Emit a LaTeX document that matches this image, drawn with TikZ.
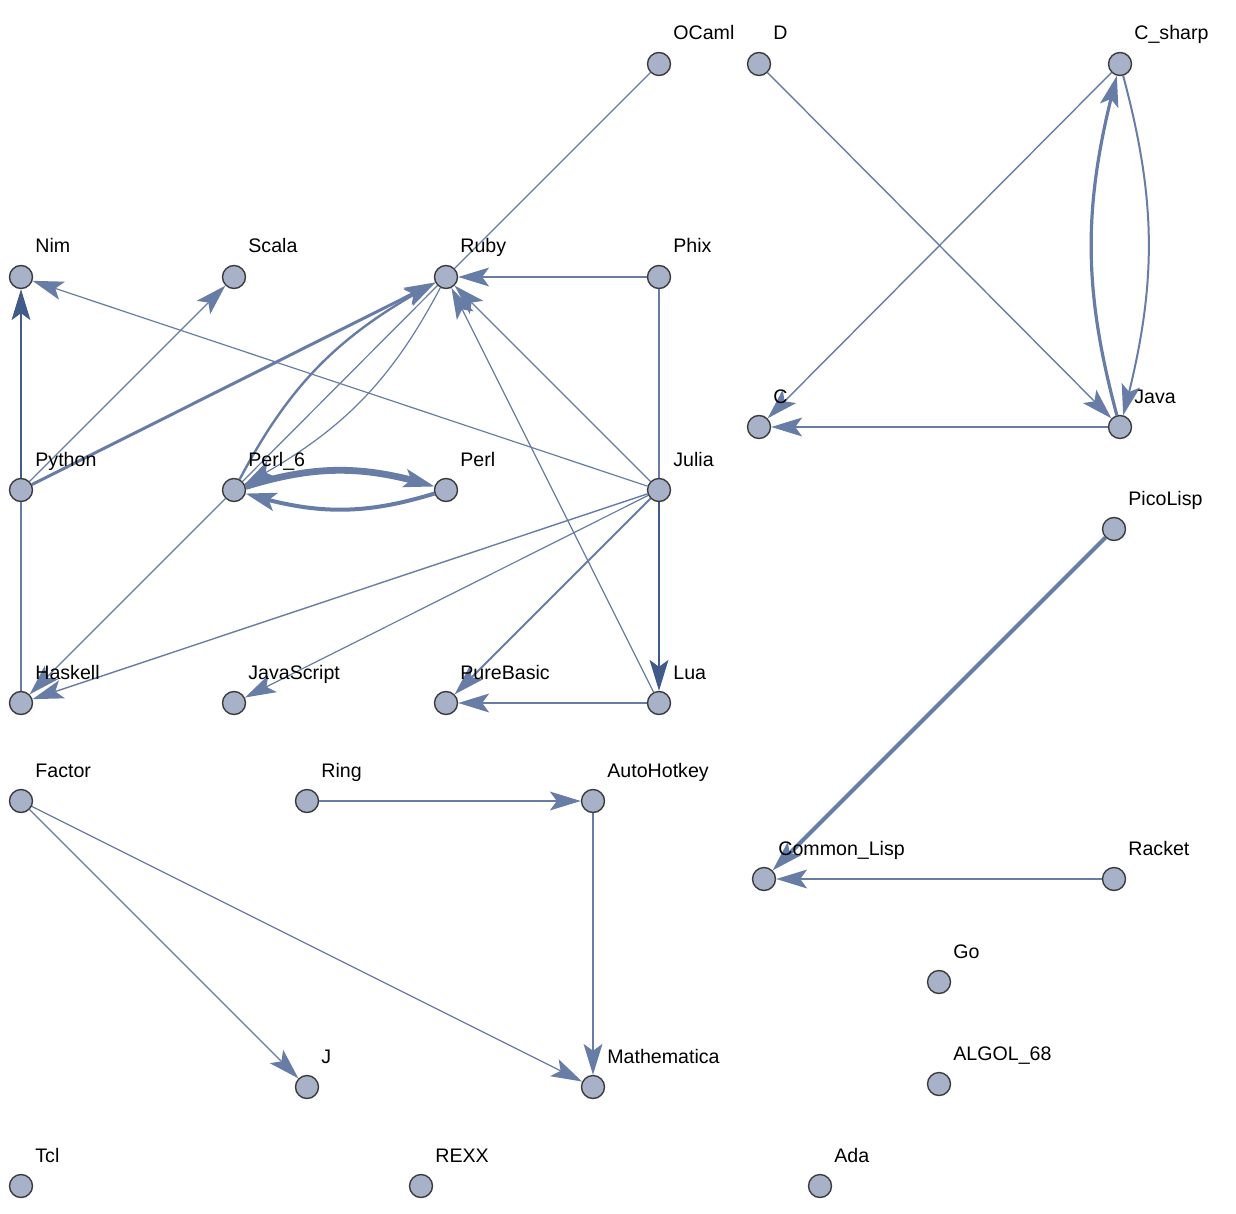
\documentclass[tikz,border=0pt]{standalone}
\usepackage{fontspec}
\setmainfont{Liberation Sans}
\usetikzlibrary{arrows.meta,backgrounds,bending}

\definecolor{edgecol}{RGB}{104,125,165}
\definecolor{edgedark}{RGB}{64,90,138}
\definecolor{nodefill}{RGB}{167,178,201}
\definecolor{nodeborder}{RGB}{60,60,60}

\begin{document}
\begin{tikzpicture}[x=0.5pt,y=-0.5pt,
  vert/.style={circle,draw=nodeborder,fill=nodefill,line width=0.7pt,minimum size=11.5pt,inner sep=0pt},
  lbl/.style={anchor=base west,inner sep=0pt,font=\fontsize{9.8}{11}\selectfont},
  edge/.style={draw=edgecol,line width=0.6pt},
  dedge/.style={draw=edgedark},
  dir/.style={-{Stealth[length=15.5pt,width=9.5pt,inset=3.5pt,line width=0pt]}}]
\useasboundingbox (0,0) rectangle (1236,1214);

\foreach \n/\x/\y/\t in {
  OCaml/659/64/OCaml, D/759/64/D, Csharp/1120/64/C\_sharp,
  Nim/21/277/Nim, Scala/234/277/Scala, Ruby/446/277/Ruby, Phix/659/277/Phix,
  C/759/427/C, Java/1120/427/Java,
  Python/21/490/Python, Perl6/234/490/Perl\_6, Perl/446/490/Perl, Julia/659/490/Julia,
  PicoLisp/1114/529/PicoLisp,
  Haskell/21/703/Haskell, JavaScript/234/703/JavaScript, PureBasic/446/703/PureBasic, Lua/659/703/Lua,
  Factor/21/801/Factor, Ring/307/801/Ring, AutoHotkey/593/801/AutoHotkey,
  CommonLisp/764/879/Common\_Lisp, Racket/1114/879/Racket,
  Go/939/982/Go,
  J/307/1087/J, Mathematica/593/1087/Mathematica, ALGOL68/939/1084/ALGOL\_68,
  Tcl/21/1186/Tcl, REXX/421/1186/REXX, Ada/820/1186/Ada}
{
  \node[vert] (\n) at (\x,\y) {};
  \node[lbl] (\n-l) at (\x+14,\y-24) {\t};
}

\begin{scope}[on background layer]
  \fill[white] (0,0) rectangle (1236,1214);
  % plain lines
  \draw[edge] (OCaml) -- (Ruby);
  \draw[edge] (Phix) -- (Julia);
  \draw[edge] (Python) -- (Haskell);
  \draw[edge] (Perl6) -- (Ruby);
  % directed
  \draw[edge,dir] (Phix) -- (Ruby);
  \draw[edge,dir] (Julia) -- (Ruby);
  \draw[edge,dir] (Julia) -- (Nim);
  \draw[edge,dir,line width=0.7pt] (Julia) -- (Haskell);
  \draw[edge,dir] (Julia) -- (JavaScript);
  \draw[edge,dir,line width=1pt] (Julia) -- (PureBasic);
  \draw[edge,dedge,dir,line width=1.1pt] (Julia) -- (Lua);
  \draw[edge,dir,line width=1pt] (Lua) -- (PureBasic);
  \draw[edge,dir] (Lua) -- (Ruby);
  \draw[edge,dedge,dir,line width=1.4pt] (Python) -- (Nim);
  \draw[edge,dir] (Python) -- (Scala);
  \draw[edge,dir,line width=1.5pt] (Python) -- (Ruby);
  \draw[edge,dir,line width=1.2pt] (Perl6) to[bend left=17] (Ruby);
  \draw[edge,dir] (Ruby) to[bend left=17] (Perl6);
  \draw[edge,dir,line width=3.4pt] (Perl6) to[bend left=17] (Perl);
  \draw[edge,dir,line width=2pt] (Perl) to[bend left=17] (Perl6);
  \draw[edge,dir] (Perl6) -- (Haskell);
  \draw[edge,dir,line width=0.7pt] (D) -- (Java);
  \draw[edge,dir,line width=0.7pt] (Csharp) -- (C);
  \draw[edge,dir,line width=1.6pt] (Java) to[bend left=15] (Csharp);
  \draw[edge,dir,line width=1pt] (Csharp) to[bend left=15] (Java);
  \draw[edge,dir,line width=0.8pt] (Java) -- (C);
  \draw[edge,dir,line width=2.1pt] (PicoLisp) -- (CommonLisp);
  \draw[edge,dir,line width=1.3pt] (Racket) -- (CommonLisp);
  \draw[edge,dir,line width=0.7pt] (Ring) -- (AutoHotkey);
  \draw[edge,dir] (AutoHotkey) -- (Mathematica);
  \draw[edge,dir] (Factor) -- (J);
  \draw[edge,dir] (Factor) -- (Mathematica);
\end{scope}
\end{tikzpicture}
\end{document}
